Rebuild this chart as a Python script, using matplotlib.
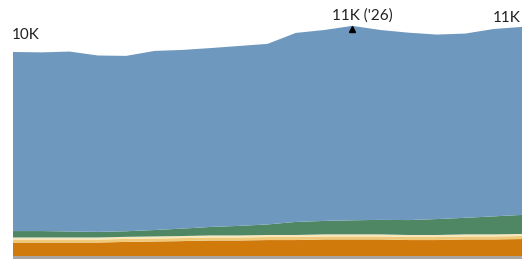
import numpy as np
import matplotlib.pyplot as plt

# years on x axis
years = list(range(2014, 2033))

# stacked layers (thousands), bottom to top
gray = [0.145] * 19
orange = [0.65, 0.65, 0.65, 0.65, 0.68, 0.70, 0.72, 0.75, 0.75, 0.77,
          0.77, 0.80, 0.80, 0.80, 0.77, 0.77, 0.80, 0.80, 0.82]
yellow = [0.145] * 19
pale = [0.10] * 19
green = [0.31, 0.31, 0.29, 0.27, 0.27, 0.31, 0.36, 0.41, 0.46, 0.51,
         0.63, 0.65, 0.68, 0.70, 0.72, 0.77, 0.80, 0.87, 0.92]
blue = [8.65, 8.63, 8.69, 8.52, 8.47, 8.65, 8.63, 8.64, 8.69, 8.72,
        9.13, 9.22, 9.39, 9.17, 9.05, 8.91, 8.90, 9.05, 9.08]

colors = ['#a9a6a1', '#d17a0c', '#f0c978', '#f7e7bb', '#4f8765', '#6f98bf']

plt.rcParams['font.family'] = ['Lato', 'DejaVu Sans']

fig = plt.figure(figsize=(5.22, 2.59), dpi=100)
ax = fig.add_axes([13 / 522, 0, 509 / 522, 1])
ax.stackplot(years, gray, orange, yellow, pale, green, blue, colors=colors,
             linewidth=0)

total = np.sum([gray, orange, yellow, pale, green, blue], axis=0)
ax.set_xlim(years[0], years[-1])
ax.set_ylim(0, 12.51)
ax.axis('off')

# labels
ax.annotate(f"{total[0]:.0f}K", (years[0], total[0]), xytext=(-1, 10),
            textcoords='offset pixels', ha='left', va='bottom', fontsize=11,
            color='#222222', annotation_clip=False)

pk = int(np.argmax(total))
ax.plot(years[pk], total[pk] - 0.15, marker='^', color='black', markersize=4)
ax.annotate(f"{total[pk]:.0f}K ('{years[pk] % 100:02d})", (years[pk], total[pk]),
            xytext=(10, 3), textcoords='offset pixels', ha='center',
            va='bottom', fontsize=11, color='#222222')

ax.annotate(f"{total[-1]:.0f}K", (years[-1], total[-1]), xytext=(-29, 2),
            textcoords='offset pixels', ha='left', va='bottom', fontsize=11,
            color='#222222', annotation_clip=False)

fig.savefig('out.png', dpi=100)
